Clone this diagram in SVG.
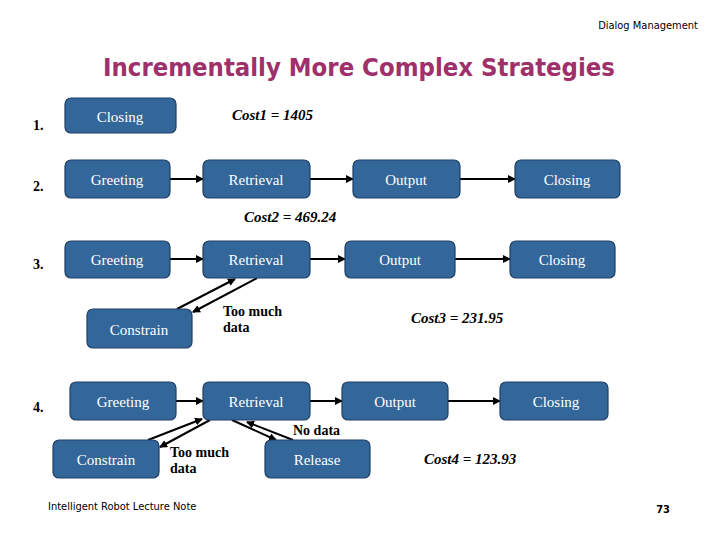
<svg xmlns="http://www.w3.org/2000/svg" width="720" height="540" viewBox="0 0 720 540">
<style>
.n{fill:#336699;stroke:#1f3f66;stroke-width:1.2}
.t{font-family:"Liberation Serif",serif;font-size:15px;fill:#fff;text-anchor:middle}
.l{font-family:"Liberation Serif",serif;font-size:14px;font-weight:bold;fill:#000}
.c{font-family:"Liberation Serif",serif;font-size:15px;font-weight:bold;font-style:italic;fill:#000}
.s{font-family:"DejaVu Sans Condensed","DejaVu Sans",sans-serif;font-size:11px;fill:#000}
.e{stroke:#000;stroke-width:2;fill:none;marker-end:url(#a)}
</style>
<defs><marker id="a" markerWidth="8" markerHeight="8" refX="7" refY="4" orient="auto" markerUnits="userSpaceOnUse"><path d="M0,0 L8,4 L0,8 z" fill="#000"/></marker></defs>
<rect width="720" height="540" fill="#fff"/>
<text x="698" y="29" class="s" text-anchor="end">Dialog Management</text>
<text x="103" y="76" font-family="'DejaVu Sans Condensed','DejaVu Sans',sans-serif" font-weight="bold" font-size="25" fill="#a0306a" textLength="512" lengthAdjust="spacingAndGlyphs">Incrementally More Complex Strategies</text>
<text x="33" y="130" class="l">1.</text><text x="33" y="191" class="l">2.</text><text x="33" y="269" class="l">3.</text><text x="33" y="412" class="l">4.</text>
<text x="232" y="120" class="c">Cost1 = 1405</text>
<text x="244" y="222" class="c">Cost2 = 469.24</text>
<text x="411" y="323" class="c">Cost3 = 231.95</text>
<text x="424" y="464" class="c">Cost4 = 123.93</text>
<g id="connectors">
<path class="e" d="M170,179 H203"/><path class="e" d="M310,179 H353"/><path class="e" d="M460,179 H515"/>
<path class="e" d="M170,259 H203"/><path class="e" d="M310,259 H345"/><path class="e" d="M455,259 H510"/>
<path class="e" d="M177,309 L235,279"/><path class="e" d="M257,278 L193,312"/>
<path class="e" d="M176,401 H203"/><path class="e" d="M310,401 H342"/><path class="e" d="M448,401 H500"/>
<path class="e" d="M148,440 L202,419"/><path class="e" d="M210,420 L160,447"/>
<path class="e" d="M232,420 L276,440"/><path class="e" d="M293,440 L247,422"/>
</g>
<text x="223" y="316" class="l" font-size="13">Too much</text><text x="223" y="332" class="l" font-size="13">data</text>
<text x="170" y="457" class="l" font-size="13">Too much</text><text x="170" y="473" class="l" font-size="13">data</text>
<text x="293" y="435" class="l" font-size="13">No data</text>
<g id="n1"><rect class="n" x="65" y="98" width="111" height="35" rx="6"/><text class="t" x="120" y="122">Closing</text></g>
<g id="n2a"><rect class="n" x="65" y="160" width="105" height="38" rx="6"/><text class="t" x="117" y="185">Greeting</text></g>
<g id="n2b"><rect class="n" x="203" y="160" width="107" height="38" rx="6"/><text class="t" x="256" y="185">Retrieval</text></g>
<g id="n2c"><rect class="n" x="353" y="160" width="107" height="38" rx="6"/><text class="t" x="406" y="185">Output</text></g>
<g id="n2d"><rect class="n" x="515" y="160" width="105" height="38" rx="6"/><text class="t" x="567" y="185">Closing</text></g>
<g id="n3a"><rect class="n" x="65" y="241" width="105" height="37" rx="6"/><text class="t" x="117" y="265">Greeting</text></g>
<g id="n3b"><rect class="n" x="203" y="241" width="107" height="37" rx="6"/><text class="t" x="256" y="265">Retrieval</text></g>
<g id="n3c"><rect class="n" x="345" y="241" width="110" height="37" rx="6"/><text class="t" x="400" y="265">Output</text></g>
<g id="n3d"><rect class="n" x="510" y="241" width="105" height="37" rx="6"/><text class="t" x="562" y="265">Closing</text></g>
<g id="n3e"><rect class="n" x="87" y="309" width="105" height="39" rx="6"/><text class="t" x="139" y="335">Constrain</text></g>
<g id="n4a"><rect class="n" x="70" y="382" width="106" height="38" rx="6"/><text class="t" x="123" y="407">Greeting</text></g>
<g id="n4b"><rect class="n" x="203" y="382" width="107" height="38" rx="6"/><text class="t" x="256" y="407">Retrieval</text></g>
<g id="n4c"><rect class="n" x="342" y="382" width="106" height="38" rx="6"/><text class="t" x="395" y="407">Output</text></g>
<g id="n4d"><rect class="n" x="500" y="382" width="108" height="38" rx="6"/><text class="t" x="556" y="407">Closing</text></g>
<g id="n4e"><rect class="n" x="53" y="440" width="106" height="38" rx="6"/><text class="t" x="106" y="465">Constrain</text></g>
<g id="n4f"><rect class="n" x="265" y="440" width="105" height="38" rx="6"/><text class="t" x="317" y="465">Release</text></g>
<text x="48" y="510" class="s">Intelligent Robot Lecture Note</text>
<text x="670" y="513" class="s" text-anchor="end" font-weight="bold">73</text>
</svg>
